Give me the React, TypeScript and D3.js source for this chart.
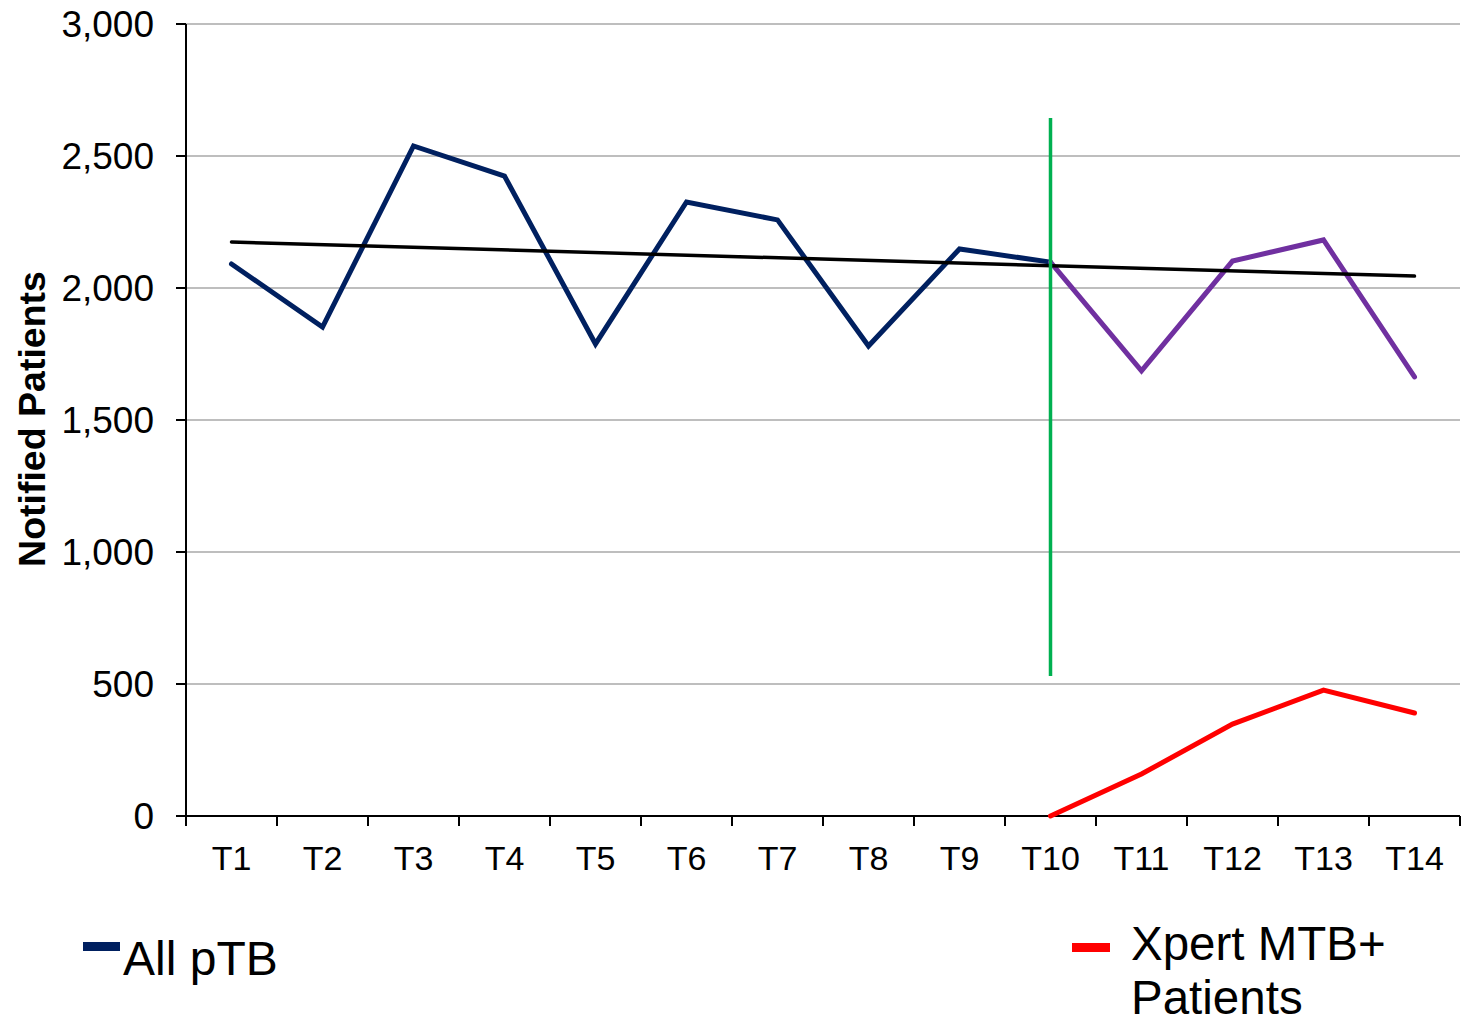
import React from "react";
import * as d3 from "d3";

// Reporting periods
const periods = ["T1", "T2", "T3", "T4", "T5", "T6", "T7", "T8", "T9", "T10", "T11", "T12", "T13", "T14"];

// Notified pulmonary TB patients per period
const allPtb = [2091, 1852, 2538, 2424, 1788, 2326, 2258, 1780, 2148, 2098, 1686, 2102, 2182, 1663];

// Xpert MTB+ patients, from T10 onward
const xpertPeriods = ["T10", "T11", "T12", "T13", "T14"];
const xpertValues = [0, 159, 348, 477, 390];

// Trend line end values (T1 and T14)
const trendPeriods = ["T1", "T14"];
const trendValues = [2174, 2045];

// Intervention marker at T10
const interventionPeriod = "T10";
const interventionRange = [530, 2644];

const yTicks = [0, 500, 1000, 1500, 2000, 2500, 3000];

const W = 1461;
const H = 1022;
const left = 186;
const right = 1460;
const top = 24;
const bottom = 816;

export default function App() {
  const x = d3.scaleBand<string>().domain(periods).range([left, right]).padding(0);
  const cx = (p: string) => (x(p) as number) + x.bandwidth() / 2;
  const y = d3.scaleLinear().domain([0, 3000]).range([bottom, top]);
  const fmt = d3.format(",");

  const line = d3
    .line<[string, number]>()
    .x((d) => cx(d[0]))
    .y((d) => y(d[1]));

  const pts: [string, number][] = periods.map((p, i) => [p, allPtb[i]]);
  const splitIdx = periods.indexOf(interventionPeriod);
  const before = pts.slice(0, splitIdx + 1);
  const after = pts.slice(splitIdx);
  const xpert: [string, number][] = xpertPeriods.map((p, i) => [p, xpertValues[i]]);
  const trend: [string, number][] = trendPeriods.map((p, i) => [p, trendValues[i]]);

  const font = "'Liberation Sans', Arial, sans-serif";
  const tickEdges = periods.map((p) => x(p) as number).concat([right]);

  return (
    <svg width={W} height={H} style={{ position: "absolute", left: 0, top: 0, background: "#fff" }} fontFamily={font}>
      {/* gridlines */}
      {yTicks.filter((t) => t > 0).map((t) => (
        <line key={"g" + t} x1={left} x2={right} y1={y(t)} y2={y(t)} stroke="#BEBEBE" strokeWidth={2} />
      ))}
      {/* y axis */}
      <line x1={left} x2={left} y1={top} y2={bottom} stroke="#000" strokeWidth={2} />
      {yTicks.map((t) => (
        <g key={"y" + t}>
          <line x1={left - 10} x2={left} y1={y(t)} y2={y(t)} stroke="#000" strokeWidth={2} />
          <text x={154} y={y(t)} dy="0.36em" textAnchor="end" fontSize={37} fill="#000">
            {fmt(t)}
          </text>
        </g>
      ))}
      {/* x axis */}
      <line x1={left} x2={right} y1={bottom} y2={bottom} stroke="#000" strokeWidth={2} />
      {tickEdges.map((e, i) => (
        <line key={"xt" + i} x1={e} x2={e} y1={bottom} y2={bottom + 10} stroke="#000" strokeWidth={2} />
      ))}
      {periods.map((p) => (
        <text key={"xl" + p} x={cx(p)} y={870} textAnchor="middle" fontSize={34} fill="#000">
          {p}
        </text>
      ))}
      {/* axis title */}
      <text
        transform={`translate(45, ${419}) rotate(-90)`}
        textAnchor="middle"
        fontSize={37.5}
        fontWeight="bold"
        fill="#000"
      >
        Notified Patients
      </text>

      {/* series */}
      <path d={line(before) as string} fill="none" stroke="#002060" strokeWidth={5} strokeLinecap="round" />
      <path d={line(after) as string} fill="none" stroke="#7030A0" strokeWidth={5} strokeLinecap="round" />
      <path d={line(trend) as string} fill="none" stroke="#000" strokeWidth={3.5} strokeLinecap="round" />
      <line
        x1={cx(interventionPeriod)}
        x2={cx(interventionPeriod)}
        y1={y(interventionRange[1])}
        y2={y(interventionRange[0])}
        stroke="#00B050"
        strokeWidth={3.5}
      />
      <path d={line(xpert) as string} fill="none" stroke="#FF0000" strokeWidth={5} strokeLinecap="round" />

      {/* legend */}
      <rect x={83} y={942} width={37} height={9} fill="#002060" />
      <text x={123} y={975} fontSize={48} fill="#000">All pTB</text>
      <rect x={1072} y={943} width={38} height={9} fill="#FF0000" />
      <text x={1131} y={960} fontSize={47.5} fill="#000">Xpert MTB+</text>
      <text x={1131} y={1014} fontSize={47.5} fill="#000">Patients</text>
    </svg>
  );
}
